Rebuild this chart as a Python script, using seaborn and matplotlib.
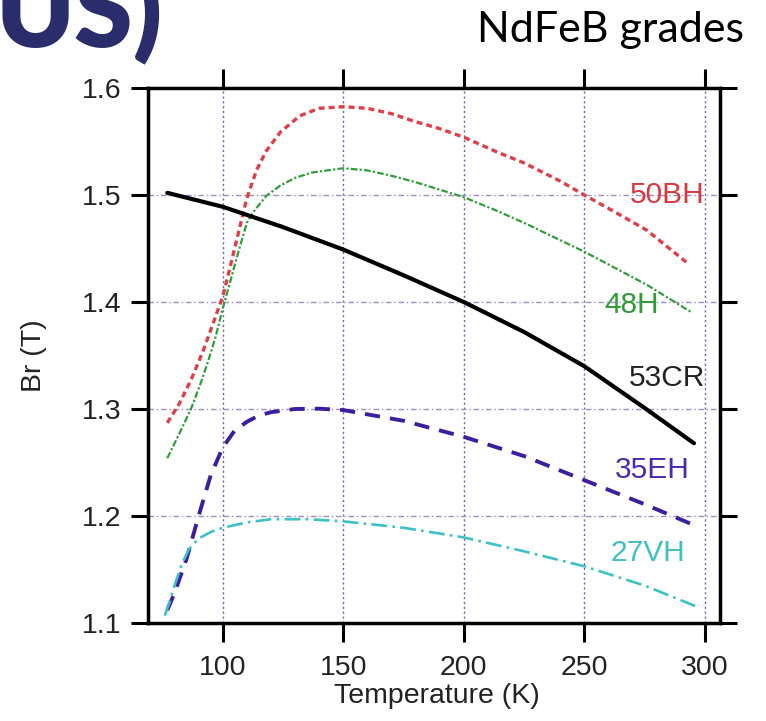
import matplotlib
matplotlib.use("Agg")
import matplotlib.pyplot as plt
import pandas as pd
import seaborn as sns

# ---------------- data ----------------
T_50BH = [77, 82, 87, 92, 96, 100, 103, 106, 110, 114, 118, 124, 132, 140, 150, 160, 170, 180, 190, 200, 214, 225, 240, 250, 262, 276, 293]
BR_50BH = [1.287, 1.305, 1.328, 1.355, 1.380, 1.405, 1.432, 1.460, 1.497, 1.523, 1.541, 1.559, 1.574, 1.581, 1.5825, 1.581, 1.576, 1.5685, 1.562, 1.554, 1.540, 1.530, 1.513, 1.500, 1.485, 1.467, 1.436]

T_48H = [77, 82, 87, 91, 94, 97, 100, 103, 106, 110, 113, 118, 124, 130, 137, 150, 160, 170, 180, 190, 200, 214, 225, 250, 276, 294]
BR_48H = [1.254, 1.277, 1.301, 1.325, 1.345, 1.367, 1.394, 1.418, 1.443, 1.474, 1.485, 1.499, 1.509, 1.516, 1.521, 1.525, 1.523, 1.518, 1.512, 1.505, 1.498, 1.485, 1.474, 1.447, 1.416, 1.391]

T_53CR = [77, 100, 125, 150, 175, 200, 225, 250, 275, 295.5]
BR_53CR = [1.502, 1.489, 1.470, 1.449, 1.425, 1.400, 1.372, 1.340, 1.301, 1.268]

T_35EH = [77, 80, 85, 90, 95, 100, 105, 110, 115, 120, 130, 140, 150, 175, 200, 225, 250, 275, 295.5]
BR_35EH = [1.112, 1.128, 1.160, 1.200, 1.238, 1.264, 1.280, 1.288, 1.294, 1.297, 1.300, 1.3003, 1.299, 1.289, 1.274, 1.256, 1.2335, 1.211, 1.1915]

T_27VH = [76, 78, 80, 83, 86, 90, 95, 100, 110, 120, 135, 150, 175, 200, 225, 250, 275, 297]
BR_27VH = [1.107, 1.120, 1.135, 1.155, 1.169, 1.179, 1.185, 1.189, 1.194, 1.197, 1.197, 1.195, 1.189, 1.180, 1.167, 1.153, 1.135, 1.115]

GRADES = ["50BH", "48H", "53CR", "35EH", "27VH"]
X_TICKS = [100, 150, 200, 250, 300]
Y_TICKS = [1.1, 1.2, 1.3, 1.4, 1.5, 1.6]
Y_TICK_LABELS = ["1.1", "1.2", "1.3", "1.4", "1.5", "1.6"]

# ---------------- styles / positions ----------------
STYLE = {
    "50BH": dict(color="#dc4048", linewidth=2.4, linestyle=(0, (1.8, 1.2))),
    "48H": dict(color="#2f9e3a", linewidth=1.6, linestyle=(0, (3, 1, 1, 1))),
    "53CR": dict(color="#000000", linewidth=3.0, linestyle="-"),
    "35EH": dict(color="#3c1e9e", linewidth=2.8, linestyle=(0, (3.9, 2.6))),
    "27VH": dict(color="#3cc2c4", linewidth=1.9, linestyle=(0, (6, 2, 1, 2))),
}
LABEL_COLOR = {"50BH": "#d8383f", "48H": "#2f9c35", "53CR": "#222222",
               "35EH": "#4a2ab0", "27VH": "#40c0c0"}
LABEL_POS = {"50BH": (284.2, 1.500), "48H": (269.8, 1.397), "53CR": (284.2, 1.329),
             "35EH": (278.2, 1.243), "27VH": (276.2, 1.165)}

data = {"50BH": (T_50BH, BR_50BH), "48H": (T_48H, BR_48H), "53CR": (T_53CR, BR_53CR),
        "35EH": (T_35EH, BR_35EH), "27VH": (T_27VH, BR_27VH)}
df = pd.concat([pd.DataFrame({"T": data[g][0], "Br": data[g][1], "grade": g}) for g in GRADES],
               ignore_index=True)

sns.set_theme(style="white")
plt.rcParams["font.family"] = ["Liberation Sans", "DejaVu Sans"]

W, H = 766, 721
fig = plt.figure(figsize=(W / 100, H / 100), dpi=100)
fig.patch.set_facecolor("white")
L, R, TOP, BOT = 148, 720, 88, 623
ax = fig.add_axes([L / W, 1 - BOT / H, (R - L) / W, (BOT - TOP) / H])

for g in GRADES:
    sub = df[df["grade"] == g]
    sns.lineplot(data=sub, x="T", y="Br", ax=ax, estimator=None, sort=False,
                 legend=False, zorder=3, **STYLE[g])
    x, y = LABEL_POS[g]
    ax.text(x, y, g, color=LABEL_COLOR[g], fontsize=21.5, ha="center", va="center", zorder=4)

ax.set_xlim(69.0, 306.3)
ax.set_ylim(1.1, 1.6)
ax.set_xticks(X_TICKS)
ax.set_yticks(Y_TICKS)
ax.set_yticklabels(Y_TICK_LABELS)

ax.set_axisbelow(True)
ax.xaxis.grid(True, color="#6f60a8", linestyle=(0, (1.5, 2.0)), linewidth=1.0)
ax.yaxis.grid(True, color="#9a90c6", linestyle=(0, (4, 2, 1, 2)), linewidth=1.0)

for s in ax.spines.values():
    s.set_visible(True)
    s.set_linewidth(2.5)
    s.set_color("black")

ax.tick_params(axis="x", direction="out", length=14, width=2.2, top=True, bottom=True,
               labelsize=20.5, pad=9, colors="black")
ax.tick_params(axis="y", direction="out", length=12, width=2.2, left=True, right=True,
               labelsize=20.5, pad=7, colors="black")
for lab in ax.get_xticklabels() + ax.get_yticklabels():
    lab.set_color("#222222")

ax.set_xlabel("Temperature (K)", fontsize=20.5, color="#222222")
ax.set_ylabel("Br (T)", fontsize=20.5, color="#222222")
ax.xaxis.set_label_coords(0.505, -0.113)
ax.yaxis.set_label_coords(-0.177, 0.5)

fig.text(744 / W, 1 - 42 / H, "NdFeB grades", ha="right", va="baseline",
         fontsize=31, family=["Lato", "DejaVu Sans"], color="black")
fig.text(-4 / W, 1 - 47 / H, "US)", ha="left", va="baseline", fontsize=76,
         family=["Lato", "DejaVu Sans"], fontweight="heavy", color="#2b2c6c")

fig.savefig("out.png", dpi=100, facecolor="white")
